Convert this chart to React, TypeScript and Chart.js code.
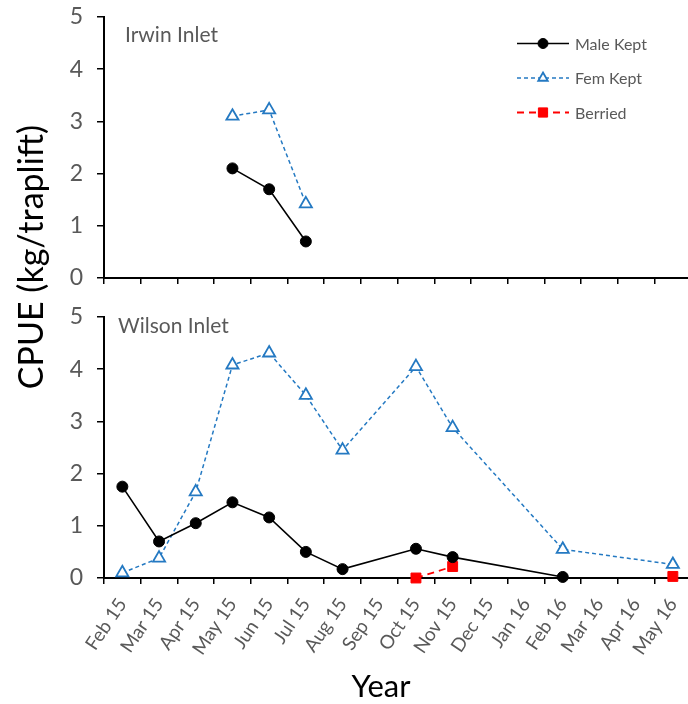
import React, { useEffect, useRef } from 'react';
import { Chart, registerables } from 'chart.js';
import { drawPoint } from 'chart.js/helpers';

Chart.register(...registerables);

const months = ['Feb 15', 'Mar 15', 'Apr 15', 'May 15', 'Jun 15', 'Jul 15', 'Aug 15', 'Sep 15', 'Oct 15', 'Nov 15', 'Dec 15', 'Jan 16', 'Feb 16', 'Mar 16', 'Apr 16', 'May 16'];
const yMin = 0;
const yMax = 5;
const yStep = 1;

const seriesNames = ['Male Kept', 'Fem Kept', 'Berried'];

const irwinMale = [null, null, null, 2.1, 1.7, 0.7, null, null, null, null, null, null, null, null, null, null];
const irwinFem = [null, null, null, 3.1, 3.22, 1.42, null, null, null, null, null, null, null, null, null, null];
const irwinBerried = [null, null, null, null, null, null, null, null, null, null, null, null, null, null, null, null];

const wilsonMale = [1.75, 0.7, 1.05, 1.45, 1.16, 0.5, 0.17, null, 0.56, 0.4, null, null, 0.02, null, null, null];
const wilsonFem = [0.1, 0.38, 1.65, 4.08, 4.31, 3.5, 2.45, null, 4.05, 2.88, null, null, 0.55, null, null, 0.26];
const wilsonBerried = [null, null, null, null, null, null, null, null, 0.0, 0.22, null, null, null, null, null, 0.03];

const panelNames = ['Irwin Inlet', 'Wilson Inlet'];
const yTitle = 'CPUE (kg/traplift)';
const xTitle = 'Year';

const FONT = 'Lato, "Open Sans", sans-serif';
const GRAY = '#595959';
const BLUE = '#2479C2';
const RED = '#FF0000';

Chart.defaults.font.family = FONT;

function makeDatasets(male: (number | null)[], fem: (number | null)[], berried: (number | null)[]) {
  return [
    {
      label: seriesNames[0], data: male, borderColor: '#000', backgroundColor: '#000',
      borderWidth: 1.6, pointStyle: 'circle', pointRadius: 5.5, pointBorderWidth: 1,
      pointBackgroundColor: '#000', pointBorderColor: '#000', spanGaps: true, clip: false, borderDash: [],
    },
    {
      label: seriesNames[1], data: fem, borderColor: BLUE, backgroundColor: '#fff',
      borderWidth: 1.5, borderDash: [4, 3], pointStyle: 'triangle', pointRadius: 7, pointBorderWidth: 1.8,
      pointBackgroundColor: '#fff', pointBorderColor: BLUE, spanGaps: true, clip: false,
    },
    {
      label: seriesNames[2], data: berried, borderColor: RED, backgroundColor: RED,
      borderWidth: 1.8, borderDash: [7, 5], pointStyle: 'rect', pointRadius: 7, pointBorderWidth: 1,
      pointBackgroundColor: RED, pointBorderColor: RED, spanGaps: false, clip: false,
    },
  ];
}

function panelLabelPlugin(text: string, x: number, y: number) {
  return {
    id: 'panelLabel',
    afterDraw(chart: any) {
      const ctx = chart.ctx;
      ctx.save();
      ctx.font = `21px ${FONT}`;
      ctx.fillStyle = GRAY;
      ctx.textAlign = 'left';
      ctx.textBaseline = 'alphabetic';
      ctx.fillText(text, x, y);
      ctx.restore();
    },
  };
}

const legendPlugin = {
  id: 'insideLegend',
  afterDraw(chart: any) {
    const ctx = chart.ctx;
    const dsets = chart.data.datasets;
    ctx.save();
    dsets.forEach((ds: any, i: number) => {
      const y = 43.5 + i * 34.5;
      ctx.beginPath();
      ctx.strokeStyle = ds.borderColor;
      ctx.lineWidth = ds.borderWidth;
      ctx.setLineDash(ds.borderDash || []);
      ctx.moveTo(517, y);
      ctx.lineTo(569, y);
      ctx.stroke();
      ctx.setLineDash([]);
      ctx.fillStyle = ds.pointBackgroundColor;
      ctx.strokeStyle = ds.pointBorderColor;
      ctx.lineWidth = ds.pointBorderWidth;
      const r = ds.pointStyle === 'triangle' ? 5.5 : ds.pointStyle === 'rect' ? 6.5 : 5;
      drawPoint(ctx, { pointStyle: ds.pointStyle, radius: r, rotation: 0, borderWidth: ds.pointBorderWidth }, 543, y);
      ctx.font = `16px ${FONT}`;
      ctx.fillStyle = GRAY;
      ctx.textAlign = 'left';
      ctx.textBaseline = 'middle';
      ctx.fillText(ds.label, 575, y + 1);
    });
    ctx.restore();
  },
};

const titlesPlugin = {
  id: 'axisTitles',
  afterDraw(chart: any) {
    const ctx = chart.ctx;
    ctx.save();
    ctx.fillStyle = '#000';
    ctx.font = `34px ${FONT}`;
    ctx.textAlign = 'center';
    ctx.textBaseline = 'alphabetic';
    ctx.translate(43, 257);
    ctx.rotate(-Math.PI / 2);
    ctx.fillText(yTitle, 0, 0);
    ctx.restore();
    ctx.save();
    ctx.fillStyle = '#000';
    ctx.font = `31px ${FONT}`;
    ctx.textAlign = 'center';
    ctx.textBaseline = 'alphabetic';
    ctx.fillText(xTitle, 381, 697);
    ctx.restore();
  },
};

function yScale() {
  return {
    min: yMin, max: yMax,
    ticks: { stepSize: yStep, color: GRAY, font: { size: 23, family: FONT }, padding: 14 },
    grid: { display: true, drawOnChartArea: false, drawTicks: true, tickLength: 7, color: '#000', lineWidth: 1.5 },
    border: { display: true, color: '#000', width: 2 },
    afterFit: (s: any) => { s.width = 40; s.paddingTop = 0; s.paddingBottom = 0; },
  };
}

function xScale(showLabels: boolean, height: number) {
  return {
    type: 'category' as const,
    offset: true,
    ticks: {
      display: showLabels, autoSkip: false, maxRotation: 56, minRotation: 56,
      color: GRAY, font: { size: 19, family: FONT }, padding: 10,
    },
    grid: { display: true, drawOnChartArea: false, drawTicks: true, tickLength: 6, color: '#000', lineWidth: 1.5, offset: true },
    border: { display: true, color: '#000', width: 2 },
    afterFit: (s: any) => { s.height = height; s.paddingLeft = 0; s.paddingRight = 0; },
  };
}

export default function App() {
  const topRef = useRef<HTMLCanvasElement>(null);
  const botRef = useRef<HTMLCanvasElement>(null);

  useEffect(() => {
    const bottom = new Chart(botRef.current as HTMLCanvasElement, {
      type: 'line',
      data: { labels: months, datasets: makeDatasets(wilsonMale, wilsonFem, wilsonBerried) as any },
      options: {
        responsive: false, animation: false, events: [],
        layout: { padding: { top: 317, left: 64, right: 7, bottom: 0 } },
        plugins: { legend: { display: false }, tooltip: { enabled: false } },
        scales: { x: xScale(true, 126) as any, y: yScale() as any },
      },
      plugins: [panelLabelPlugin(panelNames[1], 118, 333), titlesPlugin],
    });
    const top = new Chart(topRef.current as HTMLCanvasElement, {
      type: 'line',
      data: { labels: months, datasets: makeDatasets(irwinMale, irwinFem, irwinBerried) as any },
      options: {
        responsive: false, animation: false, events: [],
        layout: { padding: { top: 17, left: 64, right: 7, bottom: 0 } },
        plugins: { legend: { display: false }, tooltip: { enabled: false } },
        scales: { x: xScale(false, 22) as any, y: yScale() as any },
      },
      plugins: [panelLabelPlugin(panelNames[0], 125, 41.5), legendPlugin],
    });
    return () => { top.destroy(); bottom.destroy(); };
  }, []);

  return (
    <div style={{ position: 'fixed', left: 0, top: 0, width: 688, height: 704, overflow: 'hidden', background: '#fff' }}>
      <canvas ref={botRef} width={700} height={704} style={{ position: 'absolute', left: 0, top: 0, width: 700, height: 704 }} />
      <canvas ref={topRef} width={700} height={300} style={{ position: 'absolute', left: 0, top: 0, width: 700, height: 300 }} />
    </div>
  );
}
